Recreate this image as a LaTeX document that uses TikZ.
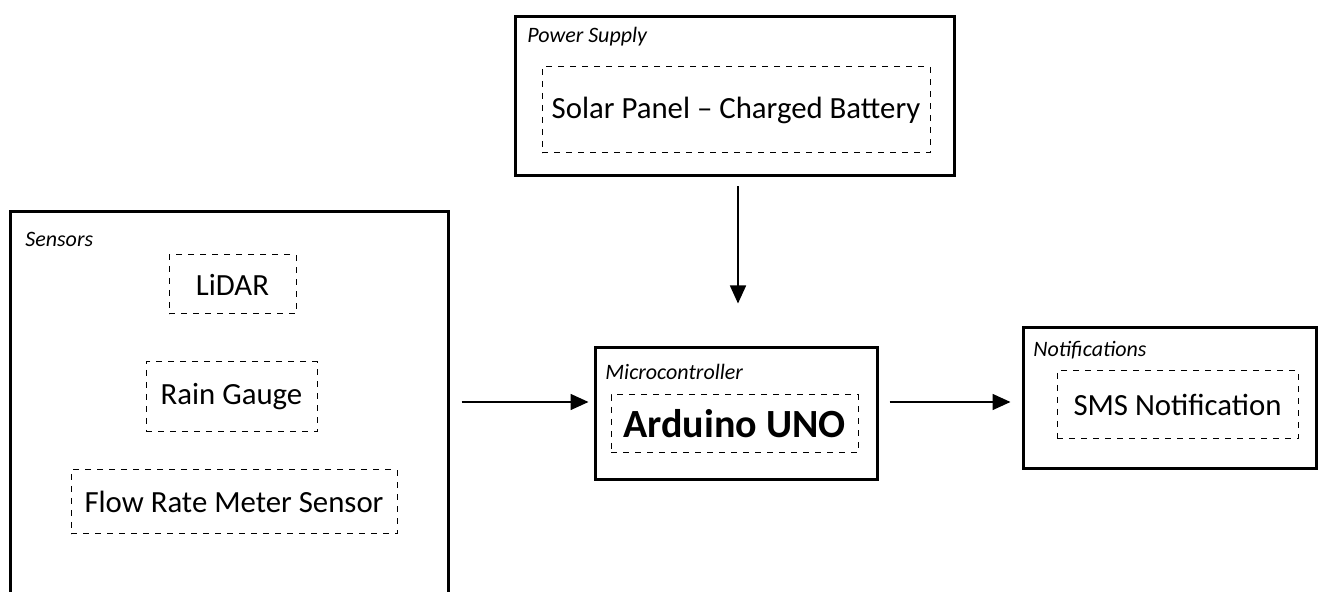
\documentclass[tikz,border=0pt]{standalone}
\usepackage{fontspec}
\setmainfont{Carlito}
\usepackage{tikz}
\usetikzlibrary{arrows.meta,positioning}

\begin{document}
\begin{tikzpicture}[
    x=0.5pt, y=-0.5pt,
    box/.style={rectangle, draw, line width=1.5pt, inner sep=0pt},
    dashbox/.style={rectangle, draw, dashed, line width=0.5pt, inner sep=0pt, font=\fontsize{15.4}{18}\selectfont},
    tag/.style={anchor=base west, inner sep=0pt, font=\fontsize{11}{13}\selectfont\itshape},
    arrow/.style={-{Triangle[length=9pt,width=8pt]}, line width=0.8pt}
]
    \useasboundingbox (0,0) rectangle (1318,592);
    \clip (0,0) rectangle (1318,592);
    \fill[white] (0,0) rectangle (1318,592);

    % outer blocks
    \node[box, minimum width=219pt, minimum height=204pt] (sensors) at (229,416) {};
    \node[box, minimum width=219.5pt, minimum height=79.5pt] (power) at (734.5,96.5) {};
    \node[box, minimum width=141pt, minimum height=66pt] (micro) at (736,414) {};
    \node[box, minimum width=146.5pt, minimum height=70.5pt] (notif) at (1169.5,398.5) {};

    % block titles
    \node[tag] (sensorsTag) at (25,247) {Sensors};
    \node[tag] (powerTag) at (527,43) {Power Supply};
    \node[tag] (microTag) at (605,380) {Microcontroller};
    \node[tag] (notifTag) at (1033,357) {Notifications};

    % inner parts
    \node[dashbox, minimum width=63.5pt, minimum height=29.5pt] (lidar) at (232.5,284.5) {LiDAR};
    \node[dashbox, minimum width=85.5pt, minimum height=35pt] (rain) at (231.5,397) {Rain Gauge};
    \node[dashbox, minimum width=163pt, minimum height=32pt] (flow) at (234,502) {Flow Rate Meter Sensor};
    \node[dashbox, minimum width=194pt, minimum height=43pt] (solar) at (736,110) {Solar Panel -- Charged Battery};
    \node[dashbox, minimum width=123.5pt, minimum height=29pt, font=\fontsize{20}{24}\selectfont\bfseries] (arduino) at (734.5,424) {Arduino UNO};
    \node[dashbox, minimum width=120.5pt, minimum height=34pt] (sms) at (1177.5,405) {SMS Notification};

    \draw[arrow, shorten <=4.5pt, shorten >=21.5pt] (power.south -| 738,0) -- (micro.north -| 738,0);
    \draw[arrow, shorten <=6pt, shorten >=2.5pt] (sensors.east |- 0,402) -- (micro.west |- 0,402);
    \draw[arrow, shorten <=5.5pt, shorten >=5.5pt] (micro.east |- 0,402) -- (notif.west |- 0,402);
\end{tikzpicture}
\end{document}
